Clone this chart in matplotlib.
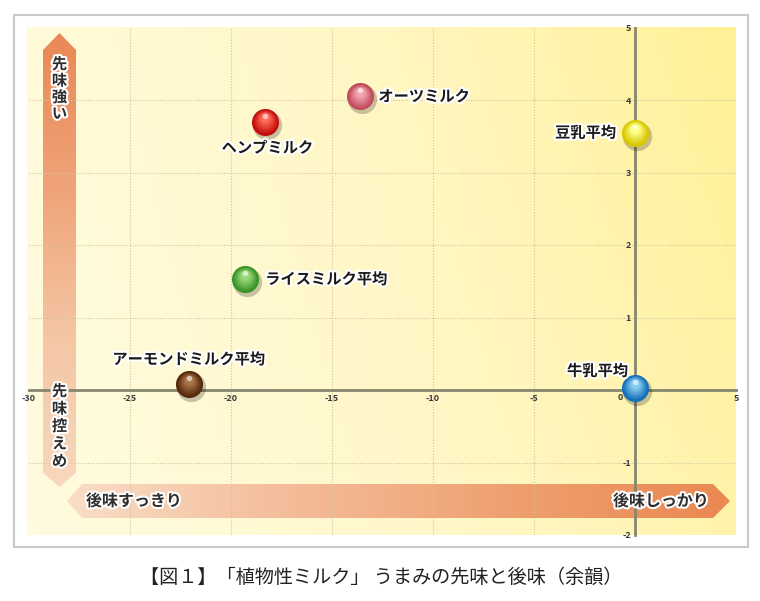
import numpy as np
import matplotlib
matplotlib.use("Agg")
import matplotlib.pyplot as plt
from matplotlib.colors import LinearSegmentedColormap, to_rgb
from matplotlib.patches import Polygon, Rectangle
from matplotlib.transforms import ScaledTranslation
import matplotlib.patheffects as pe

plt.rcParams['font.family'] = ['Noto Sans CJK JP', 'DejaVu Sans']

# data
names = ["ヘンプミルク", "オーツミルク", "豆乳平均", "ライスミルク平均", "アーモンドミルク平均", "牛乳平均"]
aftertaste = [-18.3, -13.6, 0.0, -19.3, -22.1, 0.0]    # x: 後味
firsttaste = [3.70, 4.05, 3.55, 1.53, 0.08, 0.03]      # y: 先味
base_colors = ["#C40E0E", "#C24A5C", "#D9C800", "#3A9428", "#55290A", "#1670B8"]
light_colors = ["#FF6A58", "#F2A4AE", "#FFFF8C", "#9AD878", "#A8744A", "#86CCF2"]
# label offsets in pixels, alignment
label_pos = [(2, -26, "center"), (18, 0, "left"), (-19, 0, "right"),
             (20, 0, "left"), (0, 25, "center"), (-7, 17, "right")]

xticks = [-30, -25, -20, -15, -10, -5, 0, 5]
yticks = [-2, -1, 1, 2, 3, 4, 5]
caption = "【図１】「植物性ミルク」 うまみの先味と後味（余韻）"

W, H = 760, 601
fig = plt.figure(figsize=(W / 100, H / 100), dpi=100)
fig.patch.set_facecolor("white")

# background layer in pixel coords
bg = fig.add_axes([0, 0, 1, 1], zorder=0)
bg.set_xlim(0, W)
bg.set_ylim(H, 0)
bg.axis("off")
bg.add_patch(Rectangle((14, 15), 734, 532, facecolor="white", edgecolor="#C9C9C9", lw=1.5))

# yellow gradient plot area
gx = np.linspace(0, 1, 300)
gy = np.linspace(0, 1, 200)
GX, GY = np.meshgrid(gx, gy)
T = np.clip(0.75 * GX ** 1.3 + 0.25 * (1 - GY) * (0.4 + 0.6 * GX), 0, 1)
ycmap = LinearSegmentedColormap.from_list("y", ["#FFFBDE", "#FFF6C0", "#FFF196"])
bg.imshow(T, cmap=ycmap, extent=(27, 736, 535, 27), aspect="auto", zorder=1, interpolation="bilinear")


def gradient_arrow(pts, extent, colors, vertical):
    poly = Polygon(pts, closed=True, facecolor="none", edgecolor="none")
    bg.add_patch(poly)
    n = 256
    g = np.linspace(0, 1, n)
    arr = g.reshape(-1, 1) if vertical else g.reshape(1, -1)
    cm = LinearSegmentedColormap.from_list("a", colors)
    im = bg.imshow(arr, cmap=cm, extent=extent, aspect="auto", zorder=2, alpha=0.93,
                   interpolation="bilinear")
    im.set_clip_path(poly)


# vertical arrow (先味)
gradient_arrow([(43, 50), (59.5, 33), (76, 50), (76, 473), (59.5, 487), (43, 473)],
               (43, 76, 487, 33), ["#E8804C", "#EE9C70", "#F4C2A0", "#F8D6BC"], True)
# horizontal arrow (後味)
gradient_arrow([(82, 484), (713, 484), (730, 501), (713, 518), (82, 518), (67, 501)],
               (67, 730, 518, 484), ["#F9DCC4", "#F4B896", "#EE9A6A", "#E9804A"], False)
bg.set_xlim(0, W)
bg.set_ylim(H, 0)

# main chart
ax = fig.add_axes([29 / W, 1 - 535 / H, 707 / W, 507.5 / H], zorder=1)
ax.set_facecolor("none")
ax.set_xlim(-30, 5)
ax.set_ylim(-2, 5)

for gxv in xticks[1:-2]:
    ax.axvline(gxv, color="#CBC6A0", lw=0.8, ls=(0, (1, 1.5)), zorder=0.5)
for gyv in yticks[1:-1]:
    ax.axhline(gyv, color="#CBC6A0", lw=0.8, ls=(0, (1, 1.5)), zorder=0.5)

for s in ["top", "right"]:
    ax.spines[s].set_visible(False)
ax.spines["left"].set_position(("data", 0))
ax.spines["bottom"].set_position(("data", 0))
for s in ["left", "bottom"]:
    ax.spines[s].set_color("#86866E")
    ax.spines[s].set_linewidth(2)
    ax.spines[s].set_zorder(3)

ax.set_xticks(xticks)
ax.set_xticklabels(["" if v == 0 else str(v) for v in xticks])
ax.set_yticks(yticks)
ax.set_yticklabels([str(v) for v in yticks])
ax.tick_params(length=0, labelsize=6.5, labelcolor="#3A3A3A", pad=3)
for lab in ax.get_xticklabels() + ax.get_yticklabels():
    lab.set_fontweight("bold")
ax.annotate("0", xy=(0, 0), xytext=(-15, -8), textcoords="offset pixels",
            fontsize=6.5, fontweight="bold", color="#3A3A3A", ha="center", va="center")


def off(dx, dy):
    return ax.transData + ScaledTranslation(dx / 100, dy / 100, fig.dpi_scale_trans)


# spheres
d = 19.5  # marker diameter in points
for x, y, c0, c1 in zip(aftertaste, firsttaste, base_colors, light_colors):
    ax.plot(x, y, "o", ms=d + 1.5, color="black", alpha=0.22, mec="none",
            transform=off(2, -3), zorder=4)
    ax.plot(x, y, "o", ms=d, color=c0, mec="none", zorder=5)
    a, b = np.array(to_rgb(c0)), np.array(to_rgb(c1))
    steps = 12
    for k in range(steps):
        t = k / (steps - 1)
        col = a + (b - a) * t
        ax.plot(x, y, "o", ms=d * (0.92 - 0.6 * t), color=col, mec="none",
                transform=off(0, 4 * t), zorder=5 + t)
    ax.plot(x, y, "o", ms=d * 0.2, color="white", alpha=0.6, mec="none",
            transform=off(0, 6), zorder=6.5)

stroke = [pe.withStroke(linewidth=3, foreground="white")]
for x, y, name, (dx, dy, ha) in zip(aftertaste, firsttaste, names, label_pos):
    ax.annotate(name, xy=(x, y), xytext=(dx, dy), textcoords="offset pixels",
                ha=ha, va="center", fontsize=11, fontweight="bold", color="#1A1A1A",
                path_effects=stroke, zorder=7)

# arrow captions (pixel coords)
lab_kw = dict(transform=bg.transData, ha="center", va="center", fontsize=11,
              fontweight="bold", color="#2E2E2E", path_effects=stroke, zorder=7)
for i, ch in enumerate("先味強い"):
    ax.text(59.5, 64 + i * 16.5, ch, **lab_kw)
for i, ch in enumerate("先味控えめ"):
    ax.text(59.5, 391 + i * 17.5, ch, **lab_kw)
lab_kw["fontsize"] = 11.5
ax.text(134, 501, "後味すっきり", **lab_kw)
ax.text(661, 501, "後味しっかり", **lab_kw)

fig.text(381.5 / W, 1 - 577 / H, caption, ha="center", va="center", fontsize=13.8, color="#222222")

fig.savefig("out.png", dpi=100)
